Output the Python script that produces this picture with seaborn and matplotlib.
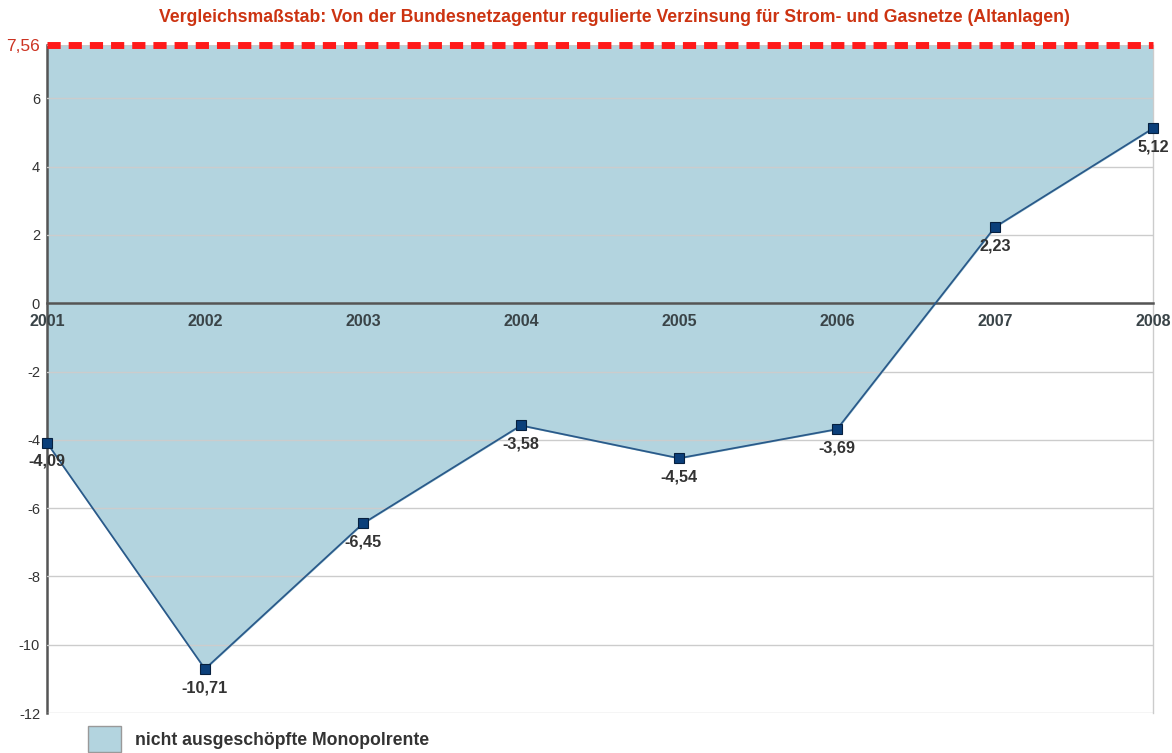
import pandas as pd
import matplotlib
matplotlib.use('Agg')
import matplotlib.pyplot as plt
from matplotlib.patches import Patch
import seaborn as sns

# Werte
years = [2001, 2002, 2003, 2004, 2005, 2006, 2007, 2008]
rendite = [-4.09, -10.71, -6.45, -3.58, -4.54, -3.69, 2.23, 5.12]
vergleich = 7.56
y_ticks = [-12, -10, -8, -6, -4, -2, 0, 2, 4, 6]

title = 'Vergleichsmaßstab: Von der Bundesnetzagentur regulierte Verzinsung für Strom- und Gasnetze (Altanlagen)'
legend_label = 'nicht ausgeschöpfte Monopolrente'

data = pd.DataFrame({'year': years, 'wert': rendite})

sns.set_style('white')
plt.rcParams['font.family'] = ['Liberation Sans', 'DejaVu Sans']

fig = plt.figure(figsize=(11.72, 7.53), dpi=100)
ax = fig.add_axes([0.0401, 0.0531, 0.9437, 0.8871])

# Fläche zwischen Vergleichsmaßstab und Linie
ax.fill_between(data['year'], data['wert'], vergleich, color='#b3d4df', zorder=1)

sns.lineplot(data=data, x='year', y='wert', ax=ax, color='#2a5a8a', linewidth=1.3,
             marker='s', markersize=7.5, markerfacecolor='#0b3f7a', markeredgecolor='#06203f',
             markeredgewidth=0.8, zorder=4, clip_on=False)

ax.axhline(vergleich, color='#ff1a1a', linewidth=5, linestyle=(0, (1.9, 1.15)), zorder=5,
           clip_on=False)

# Datenbeschriftungen
for x, y in zip(years, rendite):
    ax.annotate(f'{y:.2f}'.replace('.', ','), (x, y), xytext=(0, -8), textcoords='offset points',
                ha='center', va='top', fontsize=11.7, fontweight='bold', color='#333333',
                annotation_clip=False, zorder=6)

# Achse erst verschieben, dann Beschriftungen setzen (sonst gehen die Formate verloren)
ax.spines['bottom'].set_position(('data', 0))

ax.set_xlim(years[0], years[-1])
ax.set_ylim(-12, vergleich)
ax.set_xticks(years)
ax.set_xticklabels([str(y) for y in years], fontsize=11.5, fontweight='bold', color='#3a4448')
ax.set_yticks(y_ticks + [vergleich])
ax.set_yticklabels([str(t) for t in y_ticks] + ['7,56'], fontsize=10.5, color='#333333')
ax.get_yticklabels()[-1].set_color('#cc3322')
ax.get_yticklabels()[-1].set_fontsize(12.5)
ax.set_xlabel('')
ax.set_ylabel('')

ax.yaxis.grid(True, color='#cccccc', linewidth=1)
ax.set_axisbelow(False)
for gl in ax.get_ygridlines():
    gl.set_zorder(2)

ax.spines['bottom'].set_color('#555555')
ax.spines['bottom'].set_linewidth(1.8)
ax.spines['bottom'].set_zorder(3)
ax.spines['left'].set_color('#555555')
ax.spines['left'].set_linewidth(1.8)
ax.spines['top'].set_visible(False)
ax.spines['right'].set_color('#cccccc')
ax.spines['right'].set_linewidth(1)

ax.tick_params(axis='x', direction='out', length=4, width=1.2, color='#555555', pad=4)
ax.tick_params(axis='y', direction='out', length=4, width=1.2, color='#555555', pad=1)

fig.suptitle(title, x=0.524, y=0.988, fontsize=12.7, fontweight='bold', color='#cc3311')

handle = Patch(facecolor='#b3d4df', edgecolor='#999999', linewidth=1)
fig.legend(handles=[handle], labels=[legend_label], loc='upper left',
           bbox_to_anchor=(0.075, 0.036), frameon=False, handlelength=1.9, handleheight=1.9,
           prop={'size': 12.7, 'weight': 'bold'}, labelcolor='#333333', borderaxespad=0,
           borderpad=0, handletextpad=0.75)

fig.savefig('out.png', dpi=100)
